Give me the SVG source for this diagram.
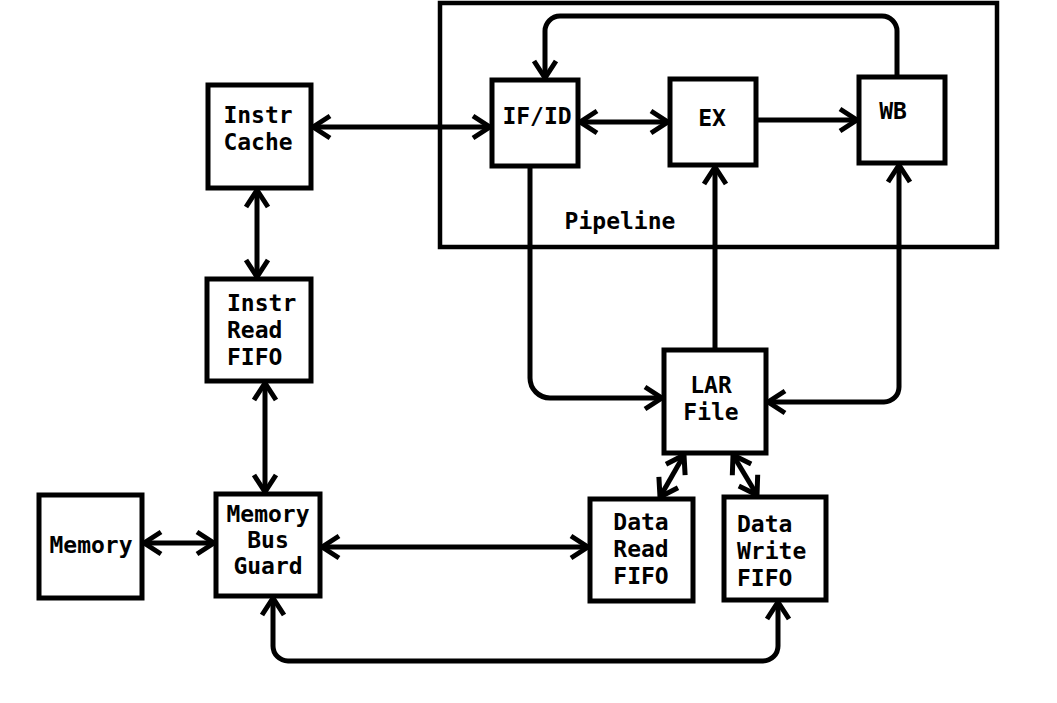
<svg xmlns="http://www.w3.org/2000/svg" width="1057" height="703" viewBox="0 0 1057 703">
<style>
.box{fill:#fff;stroke:#000;stroke-width:5}
.frame{fill:none;stroke:#000;stroke-width:4.5}
.lbl{font-family:"DejaVu Sans Mono",monospace;font-weight:bold;font-size:23px;fill:#000}
.c{text-anchor:middle}
.w{fill:none;stroke:#000;stroke-width:5}
</style>
<defs>
<marker id="a" markerUnits="userSpaceOnUse" markerWidth="30" markerHeight="30" viewBox="-20 -15 24 30" refX="0" refY="0" orient="auto-start-reverse">
<path d="M-17,-11 L0,0 L-17,11" fill="none" stroke="#000" stroke-width="5" stroke-linejoin="round"/>
</marker>
</defs>
<rect width="1057" height="703" fill="#fff"/>
<g id="pipeline">
<rect class="frame" x="440" y="3" width="557" height="244"/>
<text class="lbl c" x="620" y="229">Pipeline</text>
</g>
<g id="connectors">
<line class="w" x1="313" y1="127" x2="490" y2="127" marker-start="url(#a)" marker-end="url(#a)"/>
<line class="w" x1="580" y1="122" x2="668" y2="122" marker-start="url(#a)" marker-end="url(#a)"/>
<line class="w" x1="758" y1="120" x2="857" y2="120" marker-end="url(#a)"/>
<path class="w" d="M897,77 V31 A15,15 0 0 0 882,16 H560 A15,15 0 0 0 545,31 V78" marker-end="url(#a)"/>
<path class="w" d="M530,166 V378 A20,20 0 0 0 550,398 H662" marker-end="url(#a)"/>
<line class="w" x1="715" y1="350" x2="715" y2="167" marker-end="url(#a)"/>
<path class="w" d="M899,165 V387 A15,15 0 0 1 884,402 H768" marker-start="url(#a)" marker-end="url(#a)"/>
<line class="w" x1="684" y1="455" x2="660" y2="497" marker-start="url(#a)" marker-end="url(#a)"/>
<line class="w" x1="733" y1="455" x2="757" y2="495" marker-start="url(#a)" marker-end="url(#a)"/>
<line class="w" x1="257" y1="190" x2="257" y2="277" marker-start="url(#a)" marker-end="url(#a)"/>
<line class="w" x1="265" y1="383" x2="265" y2="492" marker-start="url(#a)" marker-end="url(#a)"/>
<line class="w" x1="144" y1="543" x2="214" y2="543" marker-start="url(#a)" marker-end="url(#a)"/>
<line class="w" x1="322" y1="547" x2="588" y2="547" marker-start="url(#a)" marker-end="url(#a)"/>
<path class="w" d="M273,598 V646 A15,15 0 0 0 288,661 H763 A15,15 0 0 0 778,646 V602" marker-start="url(#a)" marker-end="url(#a)"/>
</g>
<g id="instr-cache">
<rect class="box" x="208" y="85" width="103" height="103"/>
<text class="lbl c" x="258" y="123">Instr</text>
<text class="lbl c" x="258" y="150">Cache</text>
</g>
<g id="if-id">
<rect class="box" x="492" y="80" width="86" height="86"/>
<text class="lbl c" x="537" y="124">IF/ID</text>
</g>
<g id="ex">
<rect class="box" x="670" y="79" width="86" height="86"/>
<text class="lbl c" x="712" y="126">EX</text>
</g>
<g id="wb">
<rect class="box" x="859" y="77" width="86" height="86"/>
<text class="lbl c" x="893" y="119">WB</text>
</g>
<g id="instr-read-fifo">
<rect class="box" x="207" y="279" width="104" height="102"/>
<text class="lbl" x="227" y="311">Instr</text>
<text class="lbl" x="227" y="338">Read</text>
<text class="lbl" x="227" y="365">FIFO</text>
</g>
<g id="lar-file">
<rect class="box" x="664" y="350" width="102" height="103"/>
<text class="lbl c" x="711" y="393">LAR</text>
<text class="lbl c" x="711" y="420">File</text>
</g>
<g id="memory">
<rect class="box" x="39" y="495" width="103" height="103"/>
<text class="lbl c" x="91" y="553">Memory</text>
</g>
<g id="memory-bus-guard">
<rect class="box" x="216" y="494" width="104" height="102"/>
<text class="lbl c" x="268" y="522">Memory</text>
<text class="lbl c" x="268" y="548">Bus</text>
<text class="lbl c" x="268" y="574">Guard</text>
</g>
<g id="data-read-fifo">
<rect class="box" x="590" y="499" width="103" height="102"/>
<text class="lbl c" x="641" y="530">Data</text>
<text class="lbl c" x="641" y="557">Read</text>
<text class="lbl c" x="641" y="584">FIFO</text>
</g>
<g id="data-write-fifo">
<rect class="box" x="724" y="497" width="102" height="103"/>
<text class="lbl" x="737" y="532">Data</text>
<text class="lbl" x="737" y="559">Write</text>
<text class="lbl" x="737" y="586">FIFO</text>
</g>
</svg>
